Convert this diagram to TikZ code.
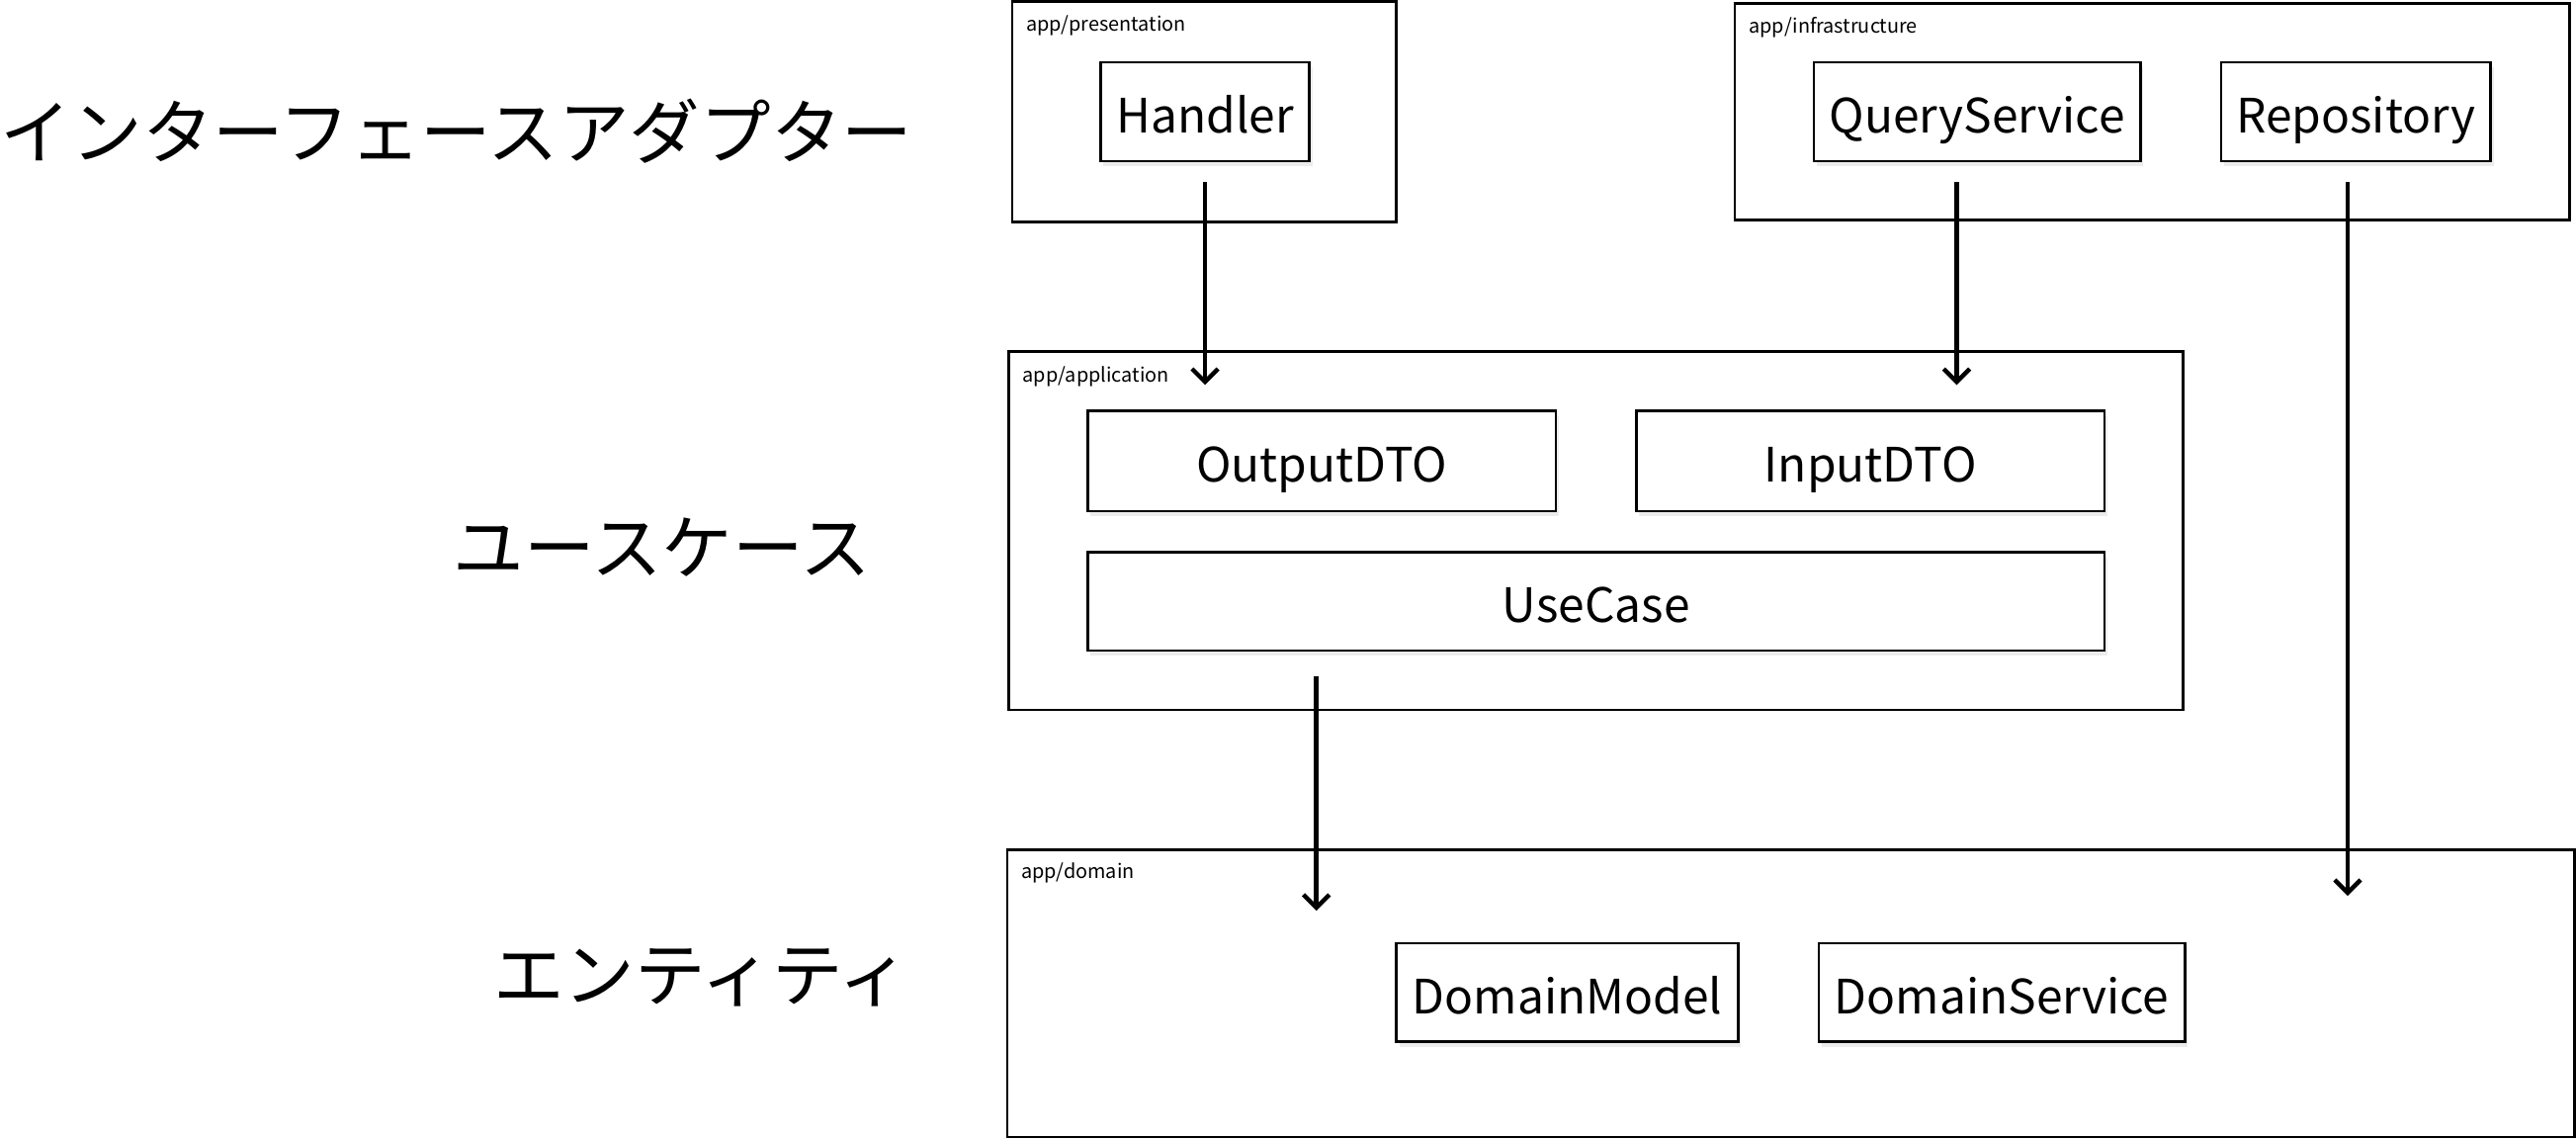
\documentclass[tikz,border=0pt]{standalone}
\usepackage{fontspec}
\setmainfont{Noto Sans CJK JP}
\usetikzlibrary{arrows.meta,shadows,positioning,calc}

\tikzset{
    pkgbox/.style={
        draw,
        line width=0.9pt,
        fill=white,
        inner sep=0pt
    },
    classbox/.style={
        draw,
        line width=0.9pt,
        fill=white,
        inner sep=0pt,
        minimum height=1.2cm,
        text height=0.51cm,
        text depth=0pt,
        font=\fontsize{16.4}{19}\selectfont,
        drop shadow={shadow xshift=1pt, shadow yshift=-1.8pt, opacity=0.15}
    },
    pkglabel/.style={
        anchor=base west,
        inner sep=0pt,
        font=\fontsize{6.8}{8}\selectfont
    },
    layerlabel/.style={
        inner sep=0pt,
        font=\fontsize{24.5}{28}\selectfont
    },
    % dependency arrow
    deparrow/.style={
        line width=1.5pt,
        black,
        ->,
        >={Straight Barb[length=4.5pt, width=9pt]}
    }
}

\begin{document}
\begin{tikzpicture}[x=0.02cm, y=-0.02cm]
    \useasboundingbox (0,0) rectangle (1568,693);

    \node[layerlabel] (lyrAdapter) at (278,80) {インターフェースアダプター};
    \node[layerlabel] (lyrUsecase) at (403,333) {ユースケース};
    \node[layerlabel] (lyrEntity) at (427,595) {エンティティ};

    % packages
    \node[pkgbox, minimum width=4.68cm, minimum height=2.68cm] (presentation) at (733,68) {};
    \node[pkgbox, minimum width=10.16cm, minimum height=2.64cm] (infrastructure) at (1310,68) {};
    \node[pkgbox, minimum width=14.3cm, minimum height=4.36cm] (application) at (971.5,323) {};
    \node[pkgbox, minimum width=19.08cm, minimum height=3.5cm] (domain) at (1090,604.5) {};

    \node[pkglabel] (presentationLbl) at ([shift={(0.18cm,-0.37cm)}]presentation.north west) {app/presentation};
    \node[pkglabel] (infrastructureLbl) at ([shift={(0.18cm,-0.38cm)}]infrastructure.north west) {app/infrastructure};
    \node[pkglabel] (applicationLbl) at ([shift={(0.18cm,-0.39cm)}]application.north west) {app/application};
    \node[pkglabel] (domainLbl) at ([shift={(0.18cm,-0.37cm)}]domain.north west) {app/domain};

    % classes
    \node[classbox, minimum width=2.54cm] (handler) at (733.5,68) {Handler};
    \node[classbox, minimum width=3.98cm] (queryService) at (1203.5,68) {QueryService};
    \node[classbox, minimum width=3.28cm] (repository) at (1434,68) {Repository};
    \node[classbox, minimum width=5.7cm, minimum height=1.22cm] (outputDTO) at (804.5,280.5) {OutputDTO};
    \node[classbox, minimum width=5.7cm, minimum height=1.22cm] (inputDTO) at (1138.5,280.5) {InputDTO};
    \node[classbox, minimum width=12.38cm] (useCase) at (971.5,366) {UseCase};
    \node[classbox, minimum width=4.16cm] (domainModel) at (954,604) {DomainModel};
    \node[classbox, minimum width=4.46cm] (domainService) at (1218.5,604) {DomainService};

    % dependencies
    \draw[deparrow] ([yshift=-0.24cm]handler.south) -- ([yshift=-0.42cm]handler.south |- application.north);
    \draw[deparrow] ([shift={(-0.25cm,-0.24cm)}]queryService.south) -- ([shift={(-0.25cm,-0.42cm)}]queryService.south |- application.north);
    \draw[deparrow] ([shift={(-0.1cm,-0.24cm)}]repository.south) -- ([shift={(-0.1cm,-0.58cm)}]repository.south |- domain.north);
    \draw[deparrow] ([shift={(2.8cm,-0.3cm)}]useCase.south west) -- ([shift={(2.8cm,-0.76cm)}]useCase.south west |- domain.north);
\end{tikzpicture}
\end{document}
